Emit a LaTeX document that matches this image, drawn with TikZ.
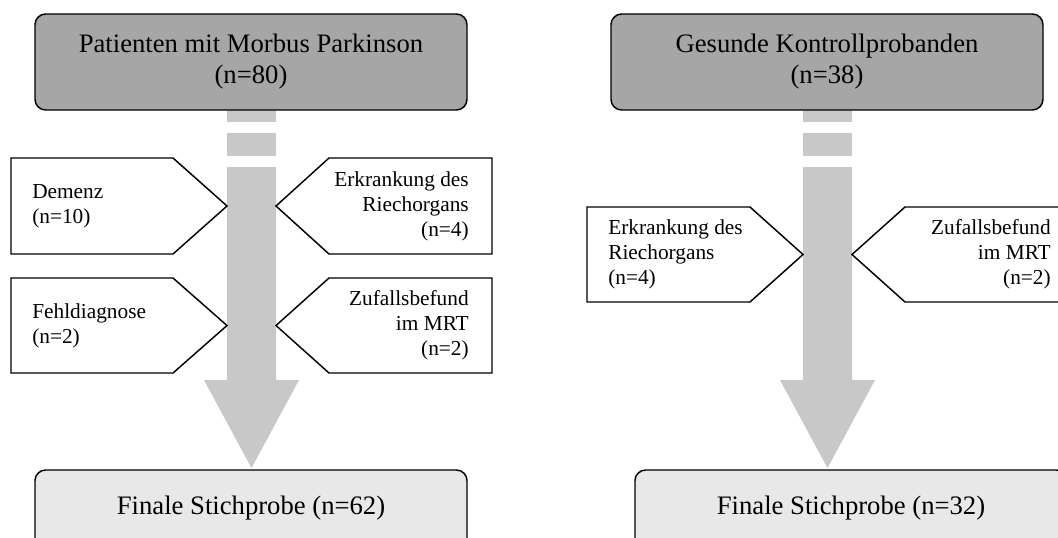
\documentclass[tikz,border=0pt]{standalone}
\usepackage{fontspec}
\setmainfont{Liberation Serif}
\definecolor{topgray}{HTML}{A6A6A6}
\definecolor{shaftgray}{HTML}{C8C8C8}
\definecolor{botgray}{HTML}{E8E8E8}
\tikzset{
  headbox/.style={draw=black, line width=1.1pt, rounded corners=8pt, fill=topgray},
  finalbox/.style={draw=black, line width=1.1pt, rounded corners=8pt, fill=botgray},
  flow/.style={fill=shaftgray, draw=none},
  excl/.style={draw=black, line width=1.1pt, fill=white, line join=miter},
  bigtext/.style={font=\fontsize{20}{23.25}\selectfont, align=center, inner sep=0pt},
  smalltext/.style={font=\fontsize{16}{18.75}\selectfont, inner sep=0pt}
}
\begin{document}
\begin{tikzpicture}[x=0.75pt,y=-0.75pt]
\clip (0,0) rectangle (1058,537);
\fill[white] (0,0) rectangle (1058,537);

% ---------- left diagram ----------
% shaft with dashes and arrow head
\fill[flow] (227,100) rectangle (276,122);
\fill[flow] (227,133) rectangle (276,156);
\fill[flow] (227,167) -- (276,167) -- (276,380) -- (299,380) -- (251.5,468)
  -- (204,380) -- (227,380) -- cycle;

% exclusion pentagons
\draw[excl] (11,158) -- (173,158) -- (227,206) -- (173,254) -- (11,254) -- cycle;
\draw[excl] (11,278) -- (173,278) -- (227,325.5) -- (173,373) -- (11,373) -- cycle;
\draw[excl] (492,158) -- (329,158) -- (276,206) -- (329,254) -- (492,254) -- cycle;
\draw[excl] (492,278) -- (329,278) -- (276,325.5) -- (329,373) -- (492,373) -- cycle;

\node (dem) [smalltext, align=left, anchor=west] at (32,206) {Demenz\\(n=10)};
\node (fehl) [smalltext, align=left, anchor=west] at (32,325.5) {Fehldiagnose\\(n=2)};
\node (riechL) [smalltext, align=right, anchor=east] at (469,206) {Erkrankung des\\Riechorgans\\(n=4)};
\node (zufL) [smalltext, align=right, anchor=east] at (469,325.5) {Zufallsbefund\\im MRT\\(n=2)};

% top and final boxes
\draw[headbox] (35,14) rectangle (467,110);
\node (pd) [bigtext] at (251,61.5) {Patienten mit Morbus Parkinson\\(n=80)};
\draw[finalbox] (35,470) rectangle (467,550);
\node (finL) [bigtext] at (251,508) {Finale Stichprobe (n=62)};

% ---------- right diagram ----------
\fill[flow] (803,100) rectangle (852,122);
\fill[flow] (803,133) rectangle (852,156);
\fill[flow] (803,167) -- (852,167) -- (852,380) -- (875,380) -- (827.5,468)
  -- (780,380) -- (803,380) -- cycle;

\draw[excl] (587,207) -- (750,207) -- (803,254.5) -- (750,302) -- (587,302) -- cycle;
\draw[excl] (1070,207) -- (905,207) -- (852,254.5) -- (905,302) -- (1070,302) -- cycle;

\node (riechR) [smalltext, align=left, anchor=west] at (608,254.5) {Erkrankung des\\Riechorgans\\(n=4)};
\node (zufR) [smalltext, align=right, anchor=east] at (1051,254.5) {Zufallsbefund\\im MRT\\(n=2)};

\draw[headbox] (611,14) rectangle (1043,110);
\node (hc) [bigtext] at (827,61.5) {Gesunde Kontrollprobanden\\(n=38)};
\draw[finalbox] (635,470) rectangle (1067,550);
\node (finR) [bigtext] at (851,508) {Finale Stichprobe (n=32)};
\end{tikzpicture}
\end{document}
